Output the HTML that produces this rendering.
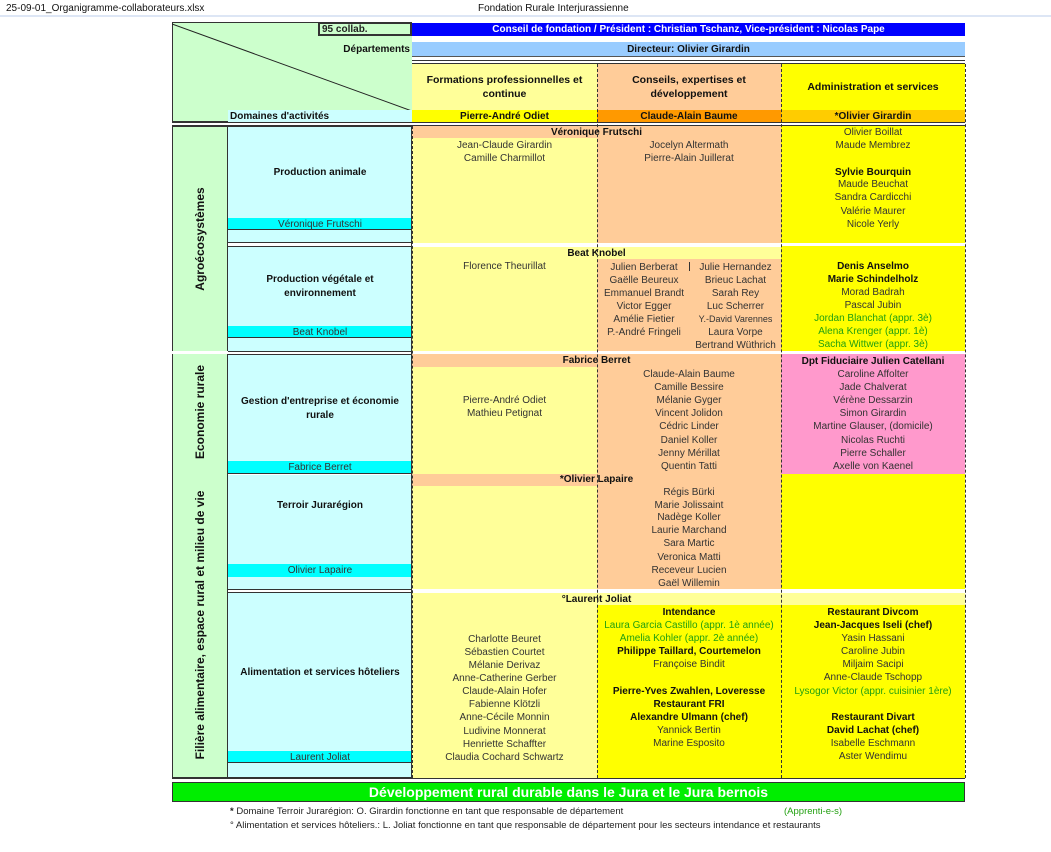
<!DOCTYPE html>
<html><head><meta charset="utf-8"><style>
*{margin:0;padding:0;box-sizing:border-box}
body{width:1051px;height:852px;background:#fff;position:relative;overflow:hidden;font-family:"Liberation Sans",Arial,sans-serif;color:#222}
.a{position:absolute}
.t{position:absolute;font-size:10px;line-height:13px;height:13px;text-align:center;white-space:nowrap;color:#333}
.b{font-weight:bold;color:#111}
.g{color:#22a010}
.c1{left:412px;width:185px}
.c2{left:597px;width:184px}
.c3{left:781px;width:184px}
.c2a{left:598px;width:92px}
.c2b{left:690px;width:91px}
.dm{left:228px;width:184px}
.dash{position:absolute;width:0;border-left:1px dashed #333}
.hl{position:absolute;height:0;border-top:1px solid #333}
.vt{position:absolute;transform:rotate(-90deg);transform-origin:center;font-weight:bold;font-size:12px;white-space:nowrap;text-align:center;color:#111}
</style></head><body>
<div class="a" style="left:0;top:15px;width:1051px;height:2px;background:#dde6f5"></div>
<div class="t" style="left:6px;top:2px;text-align:left;font-size:10px;color:#111">25-09-01_Organigramme-collaborateurs.xlsx</div>
<div class="t" style="left:478px;top:2px;text-align:left;font-size:10px;color:#111">Fondation Rurale Interjurassienne</div>

<div class="a" style="left:172px;top:22px;width:240px;height:100px;background:#ccffcc;border:1px solid #333;border-right:none"></div>
<svg class="a" style="left:172px;top:22px" width="240" height="90"><line x1="0" y1="2" x2="240" y2="89" stroke="#222" stroke-width="1"/></svg>
<div class="a" style="left:318px;top:22px;width:94px;height:14px;border:2px solid #333;background:#ccffcc;font-size:10px;font-weight:bold;line-height:11px;padding-left:2px">95 collab.</div>
<div class="t b" style="left:228px;width:182px;top:43px;text-align:right">Départements</div>
<div class="a dm" style="top:110px;height:12px;background:#ccffff"></div>
<div class="t b" style="left:230px;top:110px;width:180px;text-align:left">Domaines d'activités</div>

<div class="a" style="left:412px;top:23px;width:553px;height:13px;background:#0000ff"></div>
<div class="t b" style="left:412px;width:553px;top:23px;color:#fff">Conseil de fondation / Président : Christian Tschanz, Vice-président : Nicolas Pape</div>
<div class="a" style="left:412px;top:42px;width:553px;height:15px;background:#99ccff;border-bottom:1px solid #555"></div>
<div class="t b" style="left:412px;width:553px;top:43px">Directeur: Olivier Girardin</div>
<div class="hl" style="left:412px;width:553px;top:60px"></div>
<div class="hl" style="left:412px;width:553px;top:63px"></div>

<div class="a c1" style="top:64px;height:46px;background:#ffff99"></div>
<div class="a c2" style="top:64px;height:46px;background:#ffcc99"></div>
<div class="a c3" style="top:64px;height:46px;background:#ffff00"></div>
<div class="a c1 b" style="top:73px;font-size:10.5px;line-height:14px;text-align:center">Formations professionnelles et<br>continue</div>
<div class="a c2 b" style="top:73px;font-size:10.5px;line-height:14px;text-align:center">Conseils, expertises et<br>développement</div>
<div class="a c3 b" style="top:80px;font-size:10.5px;line-height:14px;text-align:center">Administration et services</div>
<div class="a c1" style="top:110px;height:12px;background:#ffff00"></div>
<div class="a c2" style="top:110px;height:12px;background:#ff9900"></div>
<div class="a c3" style="top:110px;height:12px;background:#ffcc00"></div>
<div class="t c1 b" style="top:110px">Pierre-André Odiet</div>
<div class="t c2 b" style="top:110px">Claude-Alain Baume</div>
<div class="t c3 b" style="top:110px">*Olivier Girardin</div>

<div class="hl" style="left:172px;width:793px;top:122px"></div>
<div class="hl" style="left:172px;width:793px;top:125px"></div>

<div class="a" style="left:172px;top:126px;width:56px;height:652px;background:#ccffcc;border:1px solid #333"></div>
<div class="a" style="left:172px;top:351px;width:56px;height:3px;background:#fff"></div>
<div class="vt" style="left:140px;top:232px;width:120px">Agroécosystèmes</div>
<div class="vt" style="left:140px;top:405px;width:120px">Economie rurale</div>
<div class="vt" style="left:50px;top:618px;width:300px">Filière alimentaire, espace rural et milieu de vie</div>

<div class="a dm" style="top:126px;height:117px;background:#ccffff;border:1px solid #333;border-left:none;border-right:none"></div>
<div class="a dm" style="top:218px;height:12px;background:#00ffff;border-bottom:1px solid #333"></div>
<div class="t dm b" style="top:166px">Production animale</div>
<div class="t dm" style="top:218px">Véronique Frutschi</div>

<div class="a dm" style="top:246px;height:106px;background:#ccffff;border-top:1px solid #333;border-bottom:1px solid #333"></div>
<div class="a dm" style="top:326px;height:12px;background:#00ffff;border-bottom:1px solid #333"></div>
<div class="a dm b" style="top:273px;font-size:10px;line-height:14px;text-align:center">Production végétale et<br>environnement</div>
<div class="t dm" style="top:326px">Beat Knobel</div>

<div class="a dm" style="top:354px;height:120px;background:#ccffff;border-top:1px solid #333"></div>
<div class="a dm" style="top:461px;height:13px;background:#00ffff;border-bottom:1px solid #333"></div>
<div class="a dm b" style="top:395px;font-size:10px;line-height:14px;text-align:center">Gestion d'entreprise et économie<br>rurale</div>
<div class="t dm" style="top:461px">Fabrice Berret</div>

<div class="a dm" style="top:475px;height:115px;background:#ccffff;border-bottom:1px solid #333"></div>
<div class="a dm" style="top:564px;height:13px;background:#00ffff"></div>
<div class="t dm b" style="top:499px">Terroir Jurarégion</div>
<div class="t dm" style="top:564px">Olivier Lapaire</div>

<div class="a dm" style="top:592px;height:186px;background:#ccffff;border-top:1px solid #333;border-bottom:1px solid #333"></div>
<div class="a dm" style="top:751px;height:12px;background:#00ffff;border-bottom:1px solid #333"></div>
<div class="t dm b" style="top:666px">Alimentation et services hôteliers</div>
<div class="t dm" style="top:751px">Laurent Joliat</div>
<div class="a" style="left:411px;top:126px;width:1px;height:652px;background:#333"></div>

<div class="a" style="left:412px;top:126px;width:369px;height:12px;background:#ffcc99"></div>
<div class="t b" style="left:412px;width:369px;top:126px">Véronique Frutschi</div>
<div class="a c1" style="top:138px;height:105px;background:#ffff99"></div>
<div class="a c2" style="top:138px;height:105px;background:#ffcc99"></div>
<div class="a c3" style="top:126px;height:120px;background:#ffff00"></div>
<div class="t c1" style="top:139px">Jean-Claude Girardin</div>
<div class="t c1" style="top:152px">Camille Charmillot</div>
<div class="t c2" style="top:139px">Jocelyn Altermath</div>
<div class="t c2" style="top:152px">Pierre-Alain Juillerat</div>
<div class="t c3" style="top:126px">Olivier Boillat</div>
<div class="t c3" style="top:139px">Maude Membrez</div>
<div class="t c3 b" style="top:166px">Sylvie Bourquin</div>
<div class="t c3" style="top:178px">Maude Beuchat</div>
<div class="t c3" style="top:191px">Sandra Cardicchi</div>
<div class="t c3" style="top:205px">Valérie Maurer</div>
<div class="t c3" style="top:218px">Nicole Yerly</div>

<div class="a" style="left:412px;top:247px;width:369px;height:12px;background:#ffff99"></div>
<div class="t b" style="left:412px;width:369px;top:247px">Beat Knobel</div>
<div class="a c1" style="top:259px;height:93px;background:#ffff99"></div>
<div class="a c2" style="top:259px;height:93px;background:#ffcc99"></div>
<div class="a c3" style="top:246px;height:106px;background:#ffff00"></div>
<div class="t c1" style="top:260px">Florence Theurillat</div>
<div class="t c2a" style="top:261px">Julien Berberat</div><div class="t c2b" style="top:261px">Julie Hernandez</div>
<div class="t c2a" style="top:274px">Gaëlle Beureux</div><div class="t c2b" style="top:274px">Brieuc Lachat</div>
<div class="t c2a" style="top:287px">Emmanuel Brandt</div><div class="t c2b" style="top:287px">Sarah Rey</div>
<div class="t c2a" style="top:300px">Victor Egger</div><div class="t c2b" style="top:300px">Luc Scherrer</div>
<div class="t c2a" style="top:313px">Amélie Fietier</div><div class="t c2b" style="top:313px;font-size:9px">Y.-David Varennes</div>
<div class="t c2a" style="top:326px">P.-André Fringeli</div><div class="t c2b" style="top:326px">Laura Vorpe</div>
<div class="t c2b" style="top:339px">Bertrand Wüthrich</div>
<div class="t c3 b" style="top:260px">Denis Anselmo</div>
<div class="t c3 b" style="top:273px">Marie Schindelholz</div>
<div class="t c3" style="top:286px">Morad Badrah</div>
<div class="t c3" style="top:299px">Pascal Jubin</div>
<div class="t c3 g" style="top:312px">Jordan Blanchat (appr. 3è)</div>
<div class="t c3 g" style="top:325px">Alena Krenger (appr. 1è)</div>
<div class="t c3 g" style="top:338px">Sacha Wittwer (appr. 3è)</div>

<div class="a" style="left:412px;top:354px;width:369px;height:13px;background:#ffcc99"></div>
<div class="t b" style="left:412px;width:369px;top:354px">Fabrice Berret</div>
<div class="a c1" style="top:367px;height:107px;background:#ffff99"></div>
<div class="a c2" style="top:367px;height:107px;background:#ffcc99"></div>
<div class="a c3" style="top:354px;height:120px;background:#ff99cc"></div>
<div class="t c1" style="top:394px">Pierre-André Odiet</div>
<div class="t c1" style="top:407px">Mathieu Petignat</div>
<div class="t c2" style="top:368px">Claude-Alain Baume</div>
<div class="t c2" style="top:381px">Camille Bessire</div>
<div class="t c2" style="top:394px">Mélanie Gyger</div>
<div class="t c2" style="top:407px">Vincent Jolidon</div>
<div class="t c2" style="top:420px">Cédric Linder</div>
<div class="t c2" style="top:434px">Daniel Koller</div>
<div class="t c2" style="top:447px">Jenny Mérillat</div>
<div class="t c2" style="top:460px">Quentin Tatti</div>
<div class="t c3 b" style="top:355px">Dpt Fiduciaire Julien Catellani</div>
<div class="t c3" style="top:368px">Caroline Affolter</div>
<div class="t c3" style="top:381px">Jade Chalverat</div>
<div class="t c3" style="top:394px">Vérène Dessarzin</div>
<div class="t c3" style="top:407px">Simon Girardin</div>
<div class="t c3" style="top:420px">Martine Glauser, (domicile)</div>
<div class="t c3" style="top:434px">Nicolas Ruchti</div>
<div class="t c3" style="top:447px">Pierre Schaller</div>
<div class="t c3" style="top:460px">Axelle von Kaenel</div>

<div class="a" style="left:412px;top:474px;width:369px;height:12px;background:#ffcc99"></div>
<div class="t b" style="left:412px;width:369px;top:473px">*Olivier Lapaire</div>
<div class="a c1" style="top:486px;height:104px;background:#ffff99"></div>
<div class="a c2" style="top:486px;height:104px;background:#ffcc99"></div>
<div class="a c3" style="top:474px;height:116px;background:#ffff00"></div>
<div class="t c2" style="top:486px">Régis Bürki</div>
<div class="t c2" style="top:499px">Marie Jolissaint</div>
<div class="t c2" style="top:511px">Nadège Koller</div>
<div class="t c2" style="top:524px">Laurie Marchand</div>
<div class="t c2" style="top:537px">Sara Martic</div>
<div class="t c2" style="top:551px">Veronica Matti</div>
<div class="t c2" style="top:564px">Receveur Lucien</div>
<div class="t c2" style="top:577px">Gaël Willemin</div>

<div class="a" style="left:412px;top:593px;width:553px;height:12px;background:#ffff99"></div>
<div class="t b" style="left:412px;width:369px;top:593px">°Laurent Joliat</div>
<div class="a c1" style="top:605px;height:173px;background:#ffff99"></div>
<div class="a c2" style="top:605px;height:173px;background:#ffff00"></div>
<div class="a c3" style="top:605px;height:173px;background:#ffff00"></div>
<div class="t c1" style="top:633px">Charlotte Beuret</div>
<div class="t c1" style="top:646px">Sébastien Courtet</div>
<div class="t c1" style="top:659px">Mélanie Derivaz</div>
<div class="t c1" style="top:672px">Anne-Catherine Gerber</div>
<div class="t c1" style="top:685px">Claude-Alain Hofer</div>
<div class="t c1" style="top:698px">Fabienne Klötzli</div>
<div class="t c1" style="top:711px">Anne-Cécile Monnin</div>
<div class="t c1" style="top:725px">Ludivine Monnerat</div>
<div class="t c1" style="top:738px">Henriette Schaffter</div>
<div class="t c1" style="top:751px">Claudia Cochard Schwartz</div>
<div class="t c2 b" style="top:606px">Intendance</div>
<div class="t c2 g" style="top:619px">Laura Garcia Castillo (appr. 1è année)</div>
<div class="t c2 g" style="top:632px">Amelia Kohler (appr. 2è année)</div>
<div class="t c2 b" style="top:645px">Philippe Taillard, Courtemelon</div>
<div class="t c2" style="top:658px">Françoise Bindit</div>
<div class="t c2 b" style="top:685px">Pierre-Yves Zwahlen, Loveresse</div>
<div class="t c2 b" style="top:698px">Restaurant FRI</div>
<div class="t c2 b" style="top:711px">Alexandre Ulmann (chef)</div>
<div class="t c2" style="top:724px">Yannick Bertin</div>
<div class="t c2" style="top:737px">Marine Esposito</div>
<div class="t c3 b" style="top:606px">Restaurant Divcom</div>
<div class="t c3 b" style="top:619px">Jean-Jacques Iseli (chef)</div>
<div class="t c3" style="top:632px">Yasin Hassani</div>
<div class="t c3" style="top:645px">Caroline Jubin</div>
<div class="t c3" style="top:658px">Miljaim Sacipi</div>
<div class="t c3" style="top:671px">Anne-Claude Tschopp</div>
<div class="t c3 g" style="top:685px">Lysogor Victor (appr. cuisinier 1ère)</div>
<div class="t c3 b" style="top:711px">Restaurant Divart</div>
<div class="t c3 b" style="top:724px">David Lachat (chef)</div>
<div class="t c3" style="top:737px">Isabelle Eschmann</div>
<div class="t c3" style="top:750px">Aster Wendimu</div>

<div class="a" style="left:412px;top:243px;width:553px;height:3px;background:#fff"></div>
<div class="a" style="left:412px;top:351px;width:553px;height:3px;background:#fff"></div>
<div class="a" style="left:412px;top:589px;width:553px;height:3px;background:#fff"></div>

<div class="dash" style="left:597px;top:64px;height:714px"></div>
<div class="dash" style="left:781px;top:64px;height:714px"></div>
<div class="dash" style="left:965px;top:64px;height:714px"></div>
<div class="dash" style="left:412px;top:126px;height:652px"></div>
<div class="a" style="left:689px;top:262px;width:1px;height:9px;background:#333"></div>

<div class="hl" style="left:172px;width:793px;top:778px"></div>
<div class="a" style="left:172px;top:782px;width:793px;height:20px;background:#00ee00;border:1px solid #333"></div>
<div class="a b" style="left:172px;top:783px;width:793px;font-size:14px;line-height:18px;text-align:center;color:#fff">Développement rural durable dans le Jura et le Jura bernois</div>
<div class="t" style="left:230px;top:805px;text-align:left;font-size:9.5px;color:#222"><b>*</b> Domaine Terroir Jurarégion: O. Girardin fonctionne en tant que responsable de département</div>
<div class="t g" style="left:784px;top:805px;text-align:left;font-size:9.5px">(Apprenti-e-s)</div>
<div class="t" style="left:230px;top:819px;text-align:left;font-size:9.5px;color:#222">° Alimentation et services hôteliers.: L. Joliat fonctionne en tant que responsable de département pour les secteurs intendance et restaurants</div>
</body></html>
